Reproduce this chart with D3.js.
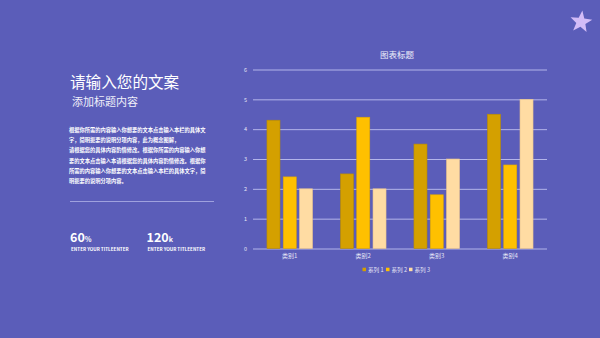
<!DOCTYPE html>
<html><head><meta charset="utf-8">
<script src="https://cdn.jsdelivr.net/npm/d3@7/dist/d3.min.js"></script>
<style>
html,body{margin:0;padding:0;background:#5b5db9;}
svg{display:block;}
text{font-family:"Noto Sans CJK SC","Noto Sans",sans-serif;}
</style></head><body>
<svg id="c" width="600" height="338"></svg>
<script>
const categories = ["类别1","类别2","类别3","类别4"];
const seriesNames = ["系列 1","系列 2","系列 3"];
const series1 = [4.3, 2.5, 3.5, 4.5];
const series2 = [2.4, 4.4, 1.8, 2.8];
const series3 = [2, 2, 3, 5];
const yTicks = [0,1,2,3,4,5,6];
const colors = ["#d4a000","#ffc000","#ffdca3"];
const strokes = ["#b98c00","#e0a800","#e8c48c"];
const chartTitle = "图表标题";
const mainTitle = "请输入您的文案";
const subTitle = "添加标题内容";
const paraLines = [
 "根据你所需的内容输入你想要的文本点击输入本栏的具体文",
 "字，简明扼要的说明分项内容，此为概念图解，",
 "请根据您的具体内容酌情修改。根据你所需的内容输入你想",
 "要的文本点击输入本请根据您的具体内容酌情修改。根据你",
 "所需的内容输入你想要的文本点击输入本栏的具体文字，简",
 "明扼要的说明分项内容。"
];
const stats = [{num:"60", unit:"%", label:"ENTER YOUR TITLEENTER"},{num:"120", unit:"k", label:"ENTER YOUR TITLEENTER"}];

const svg = d3.select("#c");
svg.append("rect").attr("width",600).attr("height",338).attr("fill","#5b5db9");

// star
const starPts = [];
for (let i=0;i<10;i++){
  const r = i%2===0 ? 11.5 : 4.8;
  const a = -Math.PI/2 + i*Math.PI/5 + 0.12;
  starPts.push([581 + r*Math.cos(a), 22 + r*Math.sin(a)]);
}
svg.append("path").attr("d", d3.line()(starPts)+"Z").attr("fill","#d3bcf7");

// left text
svg.append("text").attr("x",70).attr("y",87.5).attr("fill","#ffffff")
  .attr("font-size",15.6).text(mainTitle);
svg.append("text").attr("x",72).attr("y",106).attr("fill","#f0f0fa")
  .attr("font-size",11).text(subTitle);
const para = svg.append("g");
paraLines.forEach((l,i)=>{
  para.append("text").attr("x",69).attr("y",132 + i*10.2).attr("fill","#ffffff")
    .attr("font-size",5.25).attr("font-weight","bold").text(l);
});
svg.append("line").attr("x1",70).attr("x2",214).attr("y1",201.5).attr("y2",201.5)
  .attr("stroke","#9fa1de").attr("stroke-width",1);
const statX = [70,146.5];
stats.forEach((s,i)=>{
  const t = svg.append("text").attr("x",statX[i]).attr("y",241.5).attr("fill","#ffffff")
    .attr("font-family","Lato, sans-serif").attr("font-weight","bold");
  t.append("tspan").attr("font-size",12.5).text(s.num);
  t.append("tspan").attr("font-size",7).text(s.unit);
  svg.append("text").attr("x",statX[i]+1).attr("y",251).attr("fill","#ffffff")
    .attr("font-family","Lato, sans-serif").attr("font-weight","bold")
    .attr("font-size",4.6).text(s.label);
});

// chart
const pLeft=253, pRight=547, pTop=69.5, pBottom=248.5;
const y = d3.scaleLinear().domain([0,6]).range([pBottom, pTop]);
const x0 = d3.scaleBand().domain(categories).range([pLeft,pRight]).paddingInner(0.38).paddingOuter(0.19);
const x1 = d3.scaleBand().domain(seriesNames).range([0,x0.bandwidth()]).paddingInner(0.2);
const data = [series1, series2, series3];

svg.append("text").attr("x",397).attr("y",58).attr("text-anchor","middle")
  .attr("fill","#eeeefa").attr("font-size",8.5).text(chartTitle);

const yAxis = d3.axisLeft(y).tickValues(yTicks).tickSize(-(pRight-pLeft)).tickFormat(d3.format("d"));
const gy = svg.append("g").attr("transform",`translate(${pLeft},0)`).call(yAxis);
gy.select(".domain").remove();
gy.selectAll(".tick line").attr("stroke","#b3b5ea").attr("stroke-width",1);
gy.selectAll(".tick text").attr("fill","#e6e6f6").attr("font-size",5.5).attr("x",-6)
  .attr("font-family","Lato, sans-serif");

const groups = svg.append("g").selectAll("g").data(categories).join("g")
  .attr("transform",d=>`translate(${x0(d)},0)`);
groups.selectAll("rect").data((c,ci)=>data.map((s,si)=>({name:seriesNames[si], v:s[ci], si})))
  .join("rect")
  .attr("x",d=>x1(d.name)).attr("width",x1.bandwidth())
  .attr("y",d=>y(d.v)).attr("height",d=>y(0)-y(d.v))
  .attr("fill",d=>colors[d.si]).attr("stroke",d=>strokes[d.si]).attr("stroke-width",0.6);

const xAxis = d3.axisBottom(x0).tickSize(0);
const gx = svg.append("g").attr("transform",`translate(0,${pBottom})`).call(xAxis);
gx.select(".domain").remove();
gx.selectAll(".tick text").attr("fill","#e6e6f6").attr("font-size",6).attr("dy",0).attr("y",9.5);

// legend
const legendX = [362.5, 386, 409];
const lg = svg.append("g");
seriesNames.forEach((n,i)=>{
  lg.append("rect").attr("x",legendX[i]).attr("y",267.7).attr("width",3.5).attr("height",3.5).attr("fill",colors[i]);
  lg.append("text").attr("x",legendX[i]+5.5).attr("y",271.5).attr("fill","#e6e6f6").attr("font-size",5.6).text(n);
});
</script>
</body></html>
